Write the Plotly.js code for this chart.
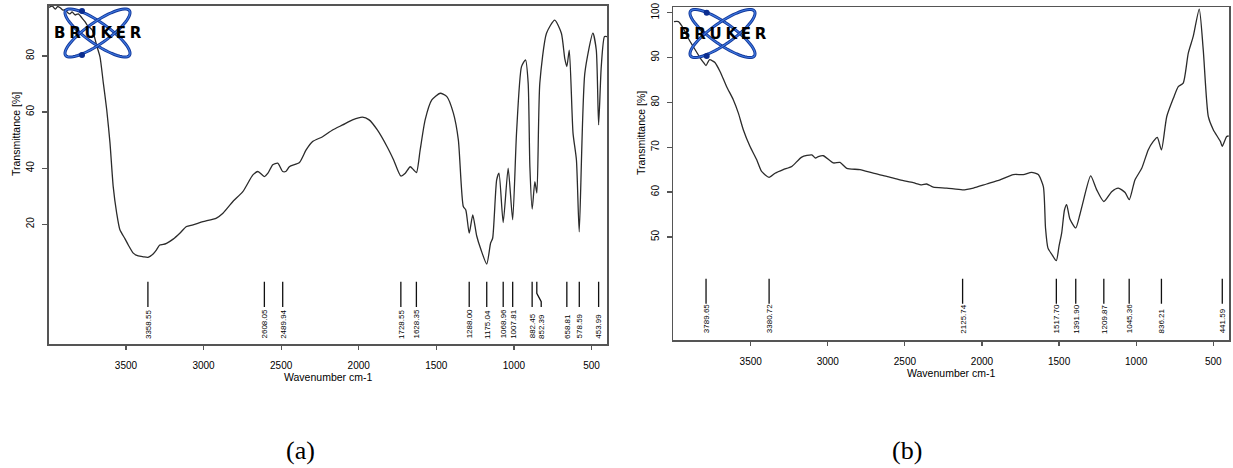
<!DOCTYPE html>
<html><head><meta charset="utf-8">
<script src="https://cdn.plot.ly/plotly-3.0.1.min.js"></script>
<style>html,body{margin:0;padding:0;background:#fff;}#chart{width:1233px;height:468px;}</style>
</head><body><div id="chart"></div>
<script>
// ---------------- data ----------------
const waveA = [3996,3975,3956,3940,3924,3905,3892,3875,3860,3847,3828,3808,3783,3763,3750,3718,3686,3667,3646,3624,3603,3582,3560,3539,3506,3485,3453,3421,3389,3358,3325,3303,3282,3260,3239,3196,3153,3110,3068,3004,2917,2875,2811,2747,2682,2650,2608,2585,2554,2522,2490,2468,2447,2382,2339,2297,2233,2169,2104,2040,1976,1933,1880,1818,1775,1729,1700,1668,1647,1628,1604,1572,1529,1475,1432,1390,1358,1326,1310,1288,1265,1240,1212,1175,1150,1137,1111,1096,1069,1037,1008,983,951,925,908,897,882,865,852,833,790,737,694,672,659,643,619,597,579,543,491,469,454,437,416,400];
const transA = [97.3,97.8,96.7,97.6,97.2,96.3,96.6,95.4,95.0,95.7,94.6,95.0,93.5,92.1,91.0,89.3,83.2,79.6,70.4,60.8,49.0,33.3,24.0,18.0,14.8,12.6,9.7,8.7,8.4,8.2,9.4,10.9,12.6,12.8,13.2,14.7,16.8,19.2,19.8,20.9,22.2,23.9,28.1,31.6,37.6,38.8,37.0,38.2,41.2,41.8,38.8,38.9,40.5,42.0,46.5,49.5,51.2,53.6,55.4,57.2,58.2,57.2,53.6,47.7,42.9,37.2,38.2,40.5,39.4,38.4,46.5,57.2,64.3,66.7,65.5,59.6,50.1,26.3,25.1,16.8,23.3,15.9,10.9,5.8,13.3,15.0,35.8,38.2,20.6,40.0,21.6,52.5,76.2,78.6,70.3,40.5,25.4,35.2,31.1,70.3,88.1,92.8,88.1,79.0,76.2,82.1,52.5,42.9,17.3,73.8,88.1,82.1,55.4,76.2,86.9,86.9];
const peaksA = [3358.55,2608.05,2489.94,1728.55,1628.35,1288.00,1175.04,1068.96,1007.81,882.45,852.39,658.81,578.59,453.99];
const peakLabelsA = ["3358.55","2608.05","2489.94","1728.55","1628.35","1288.00","1175.04","1068.96","1007.81","882.45","852.39","658.81","578.59","453.99"];

const waveB = [3998,3969,3937,3905,3872,3829,3808,3790,3768,3745,3732,3699,3656,3613,3580,3548,3505,3461,3429,3381,3342,3289,3234,3169,3104,3080,3062,3029,2964,2921,2877,2791,2705,2618,2532,2446,2391,2359,2316,2229,2126,2056,1970,1883,1797,1732,1678,1635,1602,1588,1572,1545,1518,1500,1483,1465,1451,1430,1392,1365,1343,1295,1256,1210,1159,1116,1072,1045,1008,964,922,889,863,836,802,759,727,695,662,630,591,565,532,500,454,442,413,400];
const transB = [98.0,98.0,96.5,94.3,92.4,90.0,89.0,88.2,89.5,89.2,88.9,86.9,83.5,80.6,77.6,73.9,70.2,67.2,64.6,63.3,64.2,65.0,65.7,67.8,68.3,67.6,67.9,68.1,66.5,66.6,65.3,65.0,64.2,63.5,62.7,62.1,61.6,61.8,61.1,60.9,60.5,60.9,61.8,62.7,63.9,63.9,64.4,63.9,61.2,52.0,47.5,46.0,44.7,48.0,50.9,56.0,57.2,54.0,52.0,55.0,58.0,63.6,60.5,57.9,60.1,60.9,59.9,58.3,62.7,65.3,69.4,71.3,72.2,69.4,76.8,80.9,83.5,84.3,91.0,94.7,100.8,91.7,76.8,73.9,71.3,70.2,72.4,72.5];
const peaksB = [3789.65,3380.72,2125.74,1517.70,1391.90,1209.87,1045.36,836.21,441.59];
const peakLabelsB = ["3789.65","3380.72","2125.74","1517.70","1391.90","1209.87","1045.36","836.21","441.59"];

const xTicks = [3500,3000,2500,2000,1500,1000,500];
const yTicksA = [20,40,60,80];
const yTicksB = [50,60,70,80,90,100];

// ---------------- layout helpers ----------------
const W = 1233, H = 468;
const FONT = "Liberation Sans, Arial, sans-serif";
const px = v => v / W, py = v => 1 - v / H;
const AX = '#555';
const LINE = '#2b2b2b';

function ellipsePath(cx, cy, a, b, deg) {
  const th = deg * Math.PI / 180, pts = [];
  for (let i = 0; i <= 60; i++) {
    const t = 2 * Math.PI * i / 60;
    const x = cx + a * Math.cos(t) * Math.cos(th) - b * Math.sin(t) * Math.sin(th);
    const y = cy + a * Math.cos(t) * Math.sin(th) + b * Math.sin(t) * Math.cos(th);
    pts.push(px(x).toFixed(5) + ',' + py(y).toFixed(5));
  }
  return 'M' + pts.join('L') + 'Z';
}

const shapes = [];
const annotations = [];
const C = {xref: 'paper', yref: 'paper', showarrow: false, xanchor: 'center', yanchor: 'middle'};

function logo(cx, cy, dots) {
  [35, -35].forEach(d => {
    shapes.push({type: 'path', xref: 'paper', yref: 'paper', path: ellipsePath(cx, cy, 39, 10.7, d), line: {color: '#12389a', width: 3}});
    shapes.push({type: 'path', xref: 'paper', yref: 'paper', path: ellipsePath(cx, cy, 39, 10.7, d), line: {color: '#3f78e0', width: 1.2}});
  });
  dots.forEach(([dx, dy]) => shapes.push({type: 'circle', xref: 'paper', yref: 'paper',
    x0: px(dx - 3), x1: px(dx + 3), y0: py(dy + 3), y1: py(dy - 3), fillcolor: '#0b2d8f', line: {width: 0}}));
  annotations.push(Object.assign({}, C, {x: px(cx), y: py(cy + 0.5),
    text: '<b>B\u2005R\u2005U\u2005K\u2005E\u2005R</b>', font: {family: 'DejaVu Sans, sans-serif', size: 15, color: '#000'}}));
}
logo(97.5, 33, [[82, 11], [82, 55]]);
logo(722.5, 33.5, [[706.7, 12.7], [706.7, 56]]);

// peak markers
peaksA.forEach((p, i) => {
  if (p === 852.39) {
    shapes.push({type: 'path', xref: 'x', yref: 'y', path: `M ${p},-0.5 L ${p},-4.6 L 824,-7.6 L 824,-9.5`, line: {color: '#111', width: 1.3}});
  } else {
    shapes.push({type: 'line', xref: 'x', yref: 'y', x0: p, x1: p, y0: -0.5, y1: -9.5, line: {color: '#111', width: 1.3}});
  }
  annotations.push({xref: 'x', yref: 'y', x: p, y: -21.5, yanchor: 'bottom', xanchor: 'center', textangle: -90,
    showarrow: false, text: peakLabelsA[i], xshift: p === 852.39 ? 4 : 0, font: {family: FONT, size: 8, color: '#000'}});
});
peaksB.forEach((p, i) => {
  shapes.push({type: 'line', xref: 'x2', yref: 'y2', x0: p, x1: p, y0: 40.7, y1: 35.1, line: {color: '#111', width: 1.3}});
  annotations.push({xref: 'x2', yref: 'y2', x: p, y: 28.0, yanchor: 'bottom', xanchor: 'center', textangle: -90,
    showarrow: false, text: peakLabelsB[i], font: {family: FONT, size: 8, color: '#000'}});
});

// axis titles and captions
const tf = {family: FONT, size: 10.5, color: '#000'};
const cf = {family: 'Liberation Serif, Times New Roman, serif', size: 26, color: '#000'};
annotations.push(
  Object.assign({}, C, {x: px(328), y: py(376.7), text: 'Wavenumber cm-1', font: tf}),
  Object.assign({}, C, {x: px(951), y: py(372.7), text: 'Wavenumber cm-1', font: tf}),
  Object.assign({}, C, {x: px(16), y: py(134), textangle: -90, text: 'Transmittance [%]', font: tf}),
  Object.assign({}, C, {x: px(640.5), y: py(133.5), textangle: -90, text: 'Transmittance [%]', font: tf}),
  Object.assign({}, C, {x: px(300), y: py(450), text: '(a)', font: cf}),
  Object.assign({}, C, {x: px(907), y: py(450), text: '(b)', font: cf})
);

const common = {showgrid: false, zeroline: false, showline: true, mirror: true, linecolor: AX, linewidth: 1.6,
  ticks: 'outside', tickcolor: AX, tickwidth: 1.2, automargin: false, tickfont: {family: FONT, size: 10, color: '#000'}};

const layout = {
  width: W, height: H, margin: {l: 0, r: 0, t: 0, b: 0}, paper_bgcolor: '#fff', plot_bgcolor: '#fff',
  showlegend: false,
  xaxis: Object.assign({}, common, {domain: [px(49), px(607)], range: [3996, 400], tickvals: xTicks, ticklen: 4, anchor: 'y', ticklabelstandoff: 7}),
  yaxis: Object.assign({}, common, {domain: [py(344.3), py(6)], range: [-22.8, 97.8], tickvals: yTicksA, ticklen: 5, tickangle: -90, anchor: 'x', ticklabelstandoff: 4}),
  xaxis2: Object.assign({}, common, {domain: [px(673.3), px(1229)], range: [4002, 398], tickvals: xTicks, ticklen: 4, anchor: 'y2', ticklabelstandoff: 7}),
  yaxis2: Object.assign({}, common, {domain: [py(340.3), py(7.3)], range: [26.95, 101.2], tickvals: yTicksB, ticklen: 5, tickangle: -90, anchor: 'x2', ticklabelstandoff: 4}),
  shapes: shapes, annotations: annotations
};

const traces = [
  {x: waveA, y: transA, type: 'scatter', mode: 'lines', xaxis: 'x', yaxis: 'y', line: {color: LINE, width: 1.3, shape: 'spline', smoothing: 0.6}, hoverinfo: 'x+y'},
  {x: waveB, y: transB, type: 'scatter', mode: 'lines', xaxis: 'x2', yaxis: 'y2', line: {color: LINE, width: 1.3, shape: 'spline', smoothing: 0.6}, hoverinfo: 'x+y'}
];

Plotly.newPlot('chart', traces, layout, {displayModeBar: false, staticPlot: true});
</script></body></html>
